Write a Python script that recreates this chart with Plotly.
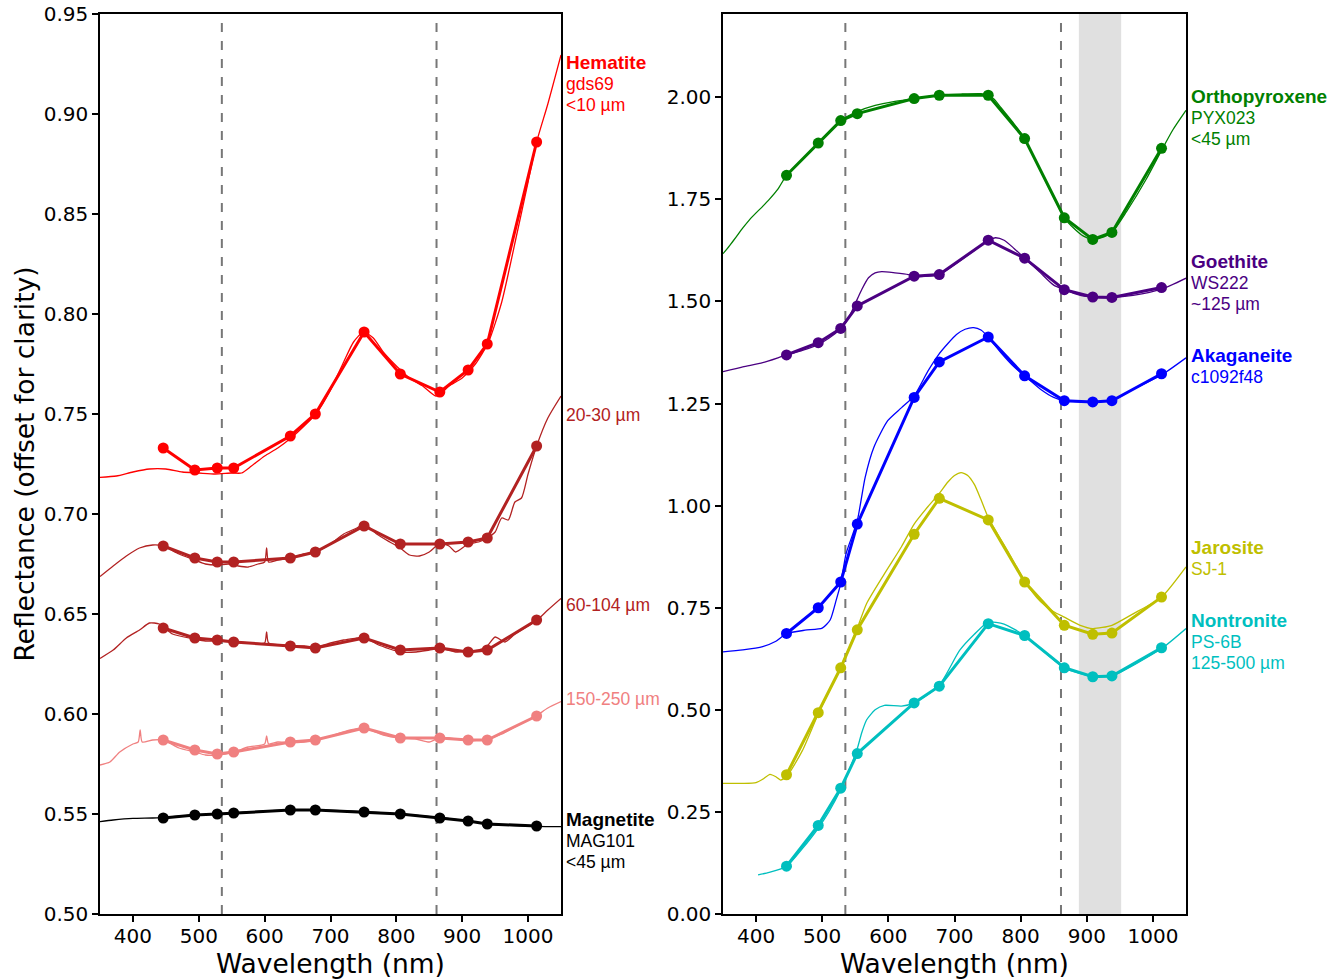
import plotly.graph_objects as go

# ---------------- data ----------------
# filter wavelengths (nm)
filt_wl = [446, 494, 528, 553, 639, 677, 751, 806, 866, 909, 938, 1013]

# left panel: band-averaged points
hem_pts = [0.733, 0.722, 0.723, 0.723, 0.739, 0.750, 0.791, 0.770, 0.761, 0.772, 0.785, 0.886]
h2030_pts = [0.684, 0.678, 0.676, 0.676, 0.678, 0.681, 0.694, 0.685, 0.685, 0.686, 0.688, 0.734]
h60104_pts = [0.643, 0.638, 0.637, 0.636, 0.634, 0.633, 0.638, 0.632, 0.633, 0.631, 0.632, 0.647]
h150250_pts = [0.587, 0.582, 0.580, 0.581, 0.586, 0.587, 0.593, 0.588, 0.588, 0.587, 0.587, 0.599]
mag_pts = [0.548, 0.5495, 0.550, 0.5505, 0.552, 0.552, 0.551, 0.550, 0.548, 0.5465, 0.545, 0.544]

# left panel: lab spectra (wavelength, reflectance)
hem_wl = [350, 375, 400, 425, 450, 475, 500, 525, 550, 565, 580, 600, 620, 640, 660, 680, 700, 720, 735,
          750, 765, 780, 800, 820, 840, 860, 870, 880, 900, 920, 940, 960, 983, 1000, 1013, 1030, 1050]
hem_sp = [0.7183, 0.719, 0.721, 0.7225, 0.7225, 0.721, 0.7205, 0.720, 0.7205, 0.7205, 0.724, 0.729, 0.733,
          0.738, 0.744, 0.751, 0.762, 0.776, 0.786, 0.791, 0.788, 0.781, 0.774, 0.768, 0.764, 0.759, 0.761,
          0.764, 0.768, 0.775, 0.786, 0.806, 0.840, 0.866, 0.886, 0.905, 0.9295]

h2030_wl = [350, 370, 390, 410, 430, 446, 470, 494, 510, 528, 545, 560, 575, 590, 600, 603, 606, 620, 639,
            660, 677, 700, 720, 740, 751, 770, 790, 806, 820, 835, 850, 866, 880, 890, 909, 925, 938, 950,
            960, 970, 980, 990, 1000, 1013, 1030, 1050]
h2030_sp = [0.6687, 0.674, 0.679, 0.683, 0.6845, 0.684, 0.680, 0.677, 0.675, 0.6745, 0.675, 0.674, 0.6735,
            0.675, 0.676, 0.683, 0.676, 0.677, 0.678, 0.680, 0.681, 0.685, 0.690, 0.693, 0.695, 0.690, 0.686,
            0.683, 0.6795, 0.679, 0.681, 0.6853, 0.684, 0.681, 0.685, 0.686, 0.688, 0.691, 0.698, 0.697,
            0.706, 0.708, 0.720, 0.734, 0.748, 0.759]

h60104_wl = [350, 370, 390, 410, 425, 440, 460, 494, 510, 528, 553, 580, 600, 603, 606, 639, 660, 677, 700,
             720, 740, 751, 770, 790, 806, 830, 850, 866, 890, 909, 925, 938, 950, 965, 980, 1000, 1013,
             1030, 1050]
h60104_sp = [0.6278, 0.632, 0.638, 0.642, 0.6455, 0.645, 0.640, 0.6375, 0.6365, 0.6365, 0.636, 0.6355,
             0.6355, 0.641, 0.6355, 0.6342, 0.634, 0.6335, 0.6355, 0.637, 0.638, 0.6385, 0.635, 0.6325,
             0.631, 0.631, 0.632, 0.6328, 0.631, 0.6315, 0.632, 0.634, 0.6385, 0.636, 0.640, 0.644, 0.6467,
             0.652, 0.6578]

h150250_wl = [350, 365, 380, 400, 408, 411, 414, 430, 446, 470, 494, 510, 528, 553, 575, 600, 603, 606,
              620, 639, 660, 677, 700, 730, 751, 780, 806, 830, 850, 866, 880, 909, 925, 938, 960, 980,
              1000, 1013, 1030, 1050]
h150250_sp = [0.5745, 0.576, 0.581, 0.585, 0.586, 0.592, 0.586, 0.587, 0.587, 0.583, 0.581, 0.5795, 0.5795,
              0.581, 0.5835, 0.585, 0.589, 0.585, 0.586, 0.5857, 0.586, 0.5867, 0.589, 0.592, 0.593, 0.5895,
              0.588, 0.5875, 0.586, 0.5882, 0.588, 0.5865, 0.587, 0.5875, 0.590, 0.5935, 0.597, 0.5992,
              0.603, 0.6062]

mag_wl = [350, 370, 400, 430, 446, 494, 528, 553, 600, 639, 677, 751, 806, 866, 909, 938, 1013, 1050]
mag_sp = [0.5462, 0.547, 0.5478, 0.548, 0.5483, 0.5495, 0.550, 0.5505, 0.5515, 0.552, 0.552, 0.5512, 0.550,
          0.5482, 0.5465, 0.545, 0.5438, 0.5437]

# right panel: band-averaged points
opx_pts = [1.809, 1.888, 1.943, 1.960, 1.997, 2.005, 2.005, 1.899, 1.705, 1.652, 1.669, 1.875]
goe_pts = [1.369, 1.399, 1.434, 1.489, 1.562, 1.566, 1.650, 1.606, 1.529, 1.511, 1.510, 1.534]
aka_pts = [0.687, 0.750, 0.813, 0.955, 1.265, 1.352, 1.413, 1.318, 1.257, 1.254, 1.257, 1.323]
jar_pts = [0.341, 0.493, 0.603, 0.696, 0.930, 1.018, 0.965, 0.813, 0.707, 0.685, 0.688, 0.776]
non_pts = [0.117, 0.217, 0.308, 0.393, 0.517, 0.558, 0.711, 0.682, 0.603, 0.581, 0.583, 0.652]

# right panel: lab spectra
opx_wl = [350, 360, 370, 380, 390, 400, 410, 420, 433, 446, 470, 494, 510, 528, 553, 580, 610, 639, 677, 710,
          740, 751, 760, 770, 790, 806, 830, 850, 866, 880, 895, 909, 920, 938, 960, 990, 1013, 1030, 1050]
opx_sp = [1.617, 1.637, 1.658, 1.680, 1.700, 1.717, 1.733, 1.750, 1.775, 1.809, 1.848, 1.887, 1.915, 1.943,
          1.965, 1.980, 1.990, 1.997, 2.005, 2.008, 2.009, 2.005, 1.995, 1.975, 1.935, 1.899, 1.820, 1.755,
          1.705, 1.680, 1.660, 1.652, 1.655, 1.669, 1.720, 1.800, 1.870, 1.920, 1.968]

goe_wl = [350, 380, 410, 446, 470, 494, 510, 528, 540, 550, 560, 570, 580, 590, 610, 630, 639, 660, 677,
          700, 730, 751, 762, 775, 790, 806, 830, 850, 866, 890, 909, 938, 970, 1013, 1050]
goe_sp = [1.328, 1.340, 1.350, 1.369, 1.380, 1.395, 1.410, 1.434, 1.460, 1.495, 1.530, 1.558, 1.570, 1.573,
          1.570, 1.566, 1.562, 1.562, 1.566, 1.590, 1.625, 1.650, 1.656, 1.650, 1.630, 1.606, 1.570, 1.540,
          1.529, 1.515, 1.511, 1.510, 1.515, 1.530, 1.557]

aka_wl = [350, 380, 410, 430, 446, 474, 500, 512, 521, 528, 536, 553, 565, 578, 599, 620, 639, 660, 676,
          690, 703, 716, 729, 740, 751, 770, 790, 806, 830, 850, 866, 909, 938, 970, 1013, 1050]
aka_sp = [0.642, 0.647, 0.655, 0.668, 0.6865, 0.695, 0.700, 0.720, 0.768, 0.809, 0.882, 0.963, 1.070,
          1.1425, 1.208, 1.240, 1.269, 1.330, 1.370, 1.397, 1.419, 1.432, 1.436, 1.430, 1.413, 1.375, 1.340,
          1.318, 1.285, 1.265, 1.257, 1.254, 1.257, 1.285, 1.320, 1.362]

jar_wl = [350, 380, 400, 410, 421, 430, 437, 446, 470, 494, 528, 553, 567, 594, 620, 639, 660, 676, 690,
          700, 710, 720, 730, 740, 751, 780, 806, 830, 850, 866, 890, 909, 938, 970, 1013, 1050]
jar_sp = [0.320, 0.320, 0.322, 0.330, 0.342, 0.336, 0.328, 0.336, 0.400, 0.490, 0.605, 0.700, 0.760, 0.833,
          0.900, 0.955, 0.998, 1.028, 1.058, 1.074, 1.081, 1.074, 1.052, 1.015, 0.971, 0.890, 0.816, 0.765,
          0.740, 0.727, 0.707, 0.699, 0.707, 0.735, 0.776, 0.850]

non_wl = [403, 420, 446, 470, 494, 510, 528, 545, 553, 560, 567, 580, 594, 620, 639, 676, 708, 730, 751,
          775, 806, 866, 909, 938, 1013, 1050]
non_sp = [0.096, 0.102, 0.1165, 0.160, 0.210, 0.250, 0.305, 0.370, 0.405, 0.445, 0.475, 0.500, 0.511, 0.509,
          0.517, 0.558, 0.646, 0.685, 0.715, 0.710, 0.682, 0.6026, 0.5814, 0.583, 0.650, 0.699]

# labels: (lines, y of first line, colour); first line bold when flagged
left_labels = [
    (["Hematite", "gds69", "<10 µm"], True, 0.926, "#ff0000"),
    (["20-30 µm"], False, 0.7495, "#b22222"),
    (["60-104 µm"], False, 0.6545, "#b22222"),
    (["150-250 µm"], False, 0.6075, "#f08080"),
    (["Magnetite", "MAG101", "<45 µm"], True, 0.5475, "#000000"),
]
right_labels = [
    (["Orthopyroxene", "PYX023", "<45 µm"], True, 2.0024, "#008000"),
    (["Goethite", "WS222", "~125 µm"], True, 1.5985, "#4b0082"),
    (["Akaganeite", "c1092f48"], True, 1.3684, "#0000ff"),
    (["Jarosite", "SJ-1"], True, 0.8984, "#bfbf00"),
    (["Nontronite", "PS-6B", "125-500 µm"], True, 0.7197, "#00bfbf"),
]

dash_lines = [535, 861]
band = (888, 952)

# ---------------- figure ----------------
fig = go.Figure()

left_series = [
    (hem_wl, hem_sp, hem_pts, "#ff0000"),
    (h2030_wl, h2030_sp, h2030_pts, "#b22222"),
    (h60104_wl, h60104_sp, h60104_pts, "#b22222"),
    (h150250_wl, h150250_sp, h150250_pts, "#f08080"),
    (mag_wl, mag_sp, mag_pts, "#000000"),
]
right_series = [
    (opx_wl, opx_sp, opx_pts, "#008000"),
    (goe_wl, goe_sp, goe_pts, "#4b0082"),
    (aka_wl, aka_sp, aka_pts, "#0000ff"),
    (jar_wl, jar_sp, jar_pts, "#bfbf00"),
    (non_wl, non_sp, non_pts, "#00bfbf"),
]

for series, xa, ya in [(left_series, "x", "y"), (right_series, "x2", "y2")]:
    for wl, sp, pts, col in series:
        fig.add_trace(go.Scatter(x=wl, y=sp, mode="lines",
                                 line=dict(color=col, width=1.3, shape="spline", smoothing=0.6),
                                 xaxis=xa, yaxis=ya, showlegend=False, hoverinfo="skip"))
        fig.add_trace(go.Scatter(x=filt_wl, y=pts, mode="lines+markers",
                                 line=dict(color=col, width=3),
                                 marker=dict(color=col, size=11),
                                 xaxis=xa, yaxis=ya, showlegend=False))

shapes = []
for xr, yr in [("x", "y"), ("x2", "y2")]:
    for d in dash_lines:
        shapes.append(dict(type="line", xref=xr, yref=yr + " domain", x0=d, x1=d, y0=0, y1=1,
                           line=dict(color="#777777", width=2, dash="dash"), layer="below"))
shapes.append(dict(type="rect", xref="x2", yref="y2 domain", x0=band[0], x1=band[1], y0=0, y1=1,
                   fillcolor="#e0e0e0", line=dict(width=0), layer="below"))

annotations = []
for labels, xr, yr in [(left_labels, "x domain", "y"), (right_labels, "x2 domain", "y2")]:
    for lines, has_bold, yv, col in labels:
        for i, line in enumerate(lines):
            bold = has_bold and i == 0
            annotations.append(dict(
                text=("<b>%s</b>" % line) if bold else line,
                xref=xr, yref=yr, x=1.0, y=yv, xanchor="left", yanchor="middle",
                yshift=-21.5 * i, xshift=3, showarrow=False, align="left",
                font=dict(family="Liberation Sans, Arial", size=19 if bold else 17.5, color=col)))

tickfont = dict(family="DejaVu Sans", size=20, color="black")
titlefont = dict(family="DejaVu Sans", size=26.5, color="black")
axis_common = dict(showline=True, linecolor="black", linewidth=1.5, mirror=True, ticks="outside",
                   ticklen=6, tickwidth=1.5, tickcolor="black", showgrid=False, zeroline=False,
                   tickfont=tickfont, automargin=False)

ML, MR, MT, MB = 100, 156, 14, 66
plot_w = 1342 - ML - MR
fig.update_layout(
    width=1342, height=980,
    margin=dict(l=ML, r=MR, t=MT, b=MB, autoexpand=False),
    paper_bgcolor="white", plot_bgcolor="white",
    showlegend=False,
    shapes=shapes, annotations=annotations,
    xaxis=dict(domain=[0, (561 - ML) / plot_w], range=[350, 1050], tickvals=[400, 500, 600, 700, 800, 900, 1000],
               title=dict(text="Wavelength (nm)", font=titlefont, standoff=4), anchor="y",
               ticklabelstandoff=-3, **axis_common),
    yaxis=dict(domain=[0, 1], range=[0.5, 0.95], tickvals=[0.5 + 0.05 * i for i in range(10)], tickformat=".2f",
               title=dict(text="Reflectance (offset for clarity)", font=titlefont, standoff=1), anchor="x",
               **axis_common),
    xaxis2=dict(domain=[(723 - ML) / plot_w, 1], range=[350, 1050], tickvals=[400, 500, 600, 700, 800, 900, 1000],
                title=dict(text="Wavelength (nm)", font=titlefont, standoff=4), anchor="y2",
                ticklabelstandoff=-3, **axis_common),
    yaxis2=dict(domain=[0, 1], range=[0, 2.204], tickvals=[0.25 * i for i in range(9)], tickformat=".2f",
                anchor="x2", **axis_common),
)

fig.write_html("out.html")
